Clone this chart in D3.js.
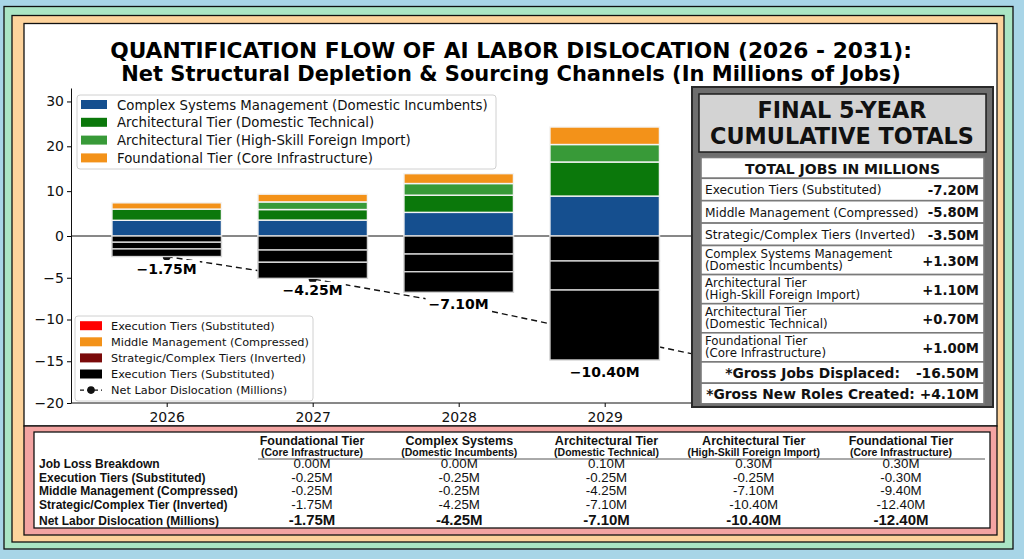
<!DOCTYPE html>
<html>
<head>
<meta charset="utf-8">
<script src="https://cdn.jsdelivr.net/npm/d3@7"></script>
<style>
  body { margin: 0; background: #fff; }
  svg { display: block; }
</style>
</head>
<body>
<div id="chart"></div>
<script>
// Chart data (millions of jobs)
var years = [2026, 2027, 2028, 2029];
var complexSystems = [3.5, 3.55, 5.27, 8.9];
var archDomestic = [2.5, 2.35, 3.83, 7.6];
var archForeign = [0, 1.7, 2.6, 3.9];
var foundational = [1.4, 1.73, 2.2, 3.9];
var lossExecution = [-0.75, -1.68, -2.16, -2.99];
var lossMiddle = [-0.8, -1.47, -2.12, -3.48];
var lossStrategic = [-0.91, -1.92, -2.46, -8.38];

// dashed net line (last point sits behind the totals panel)
var lineYears = [2026, 2027, 2028, 2029, 2030];
var lineValues = [-2.46, -5.15, -8.2, -11.9, -15.6];

var yTicks = [30, 20, 10, 0, -5, -10, -15, -20];

var legendTop = [
  "Complex Systems Management (Domestic Incumbents)",
  "Architectural Tier (Domestic Technical)",
  "Architectural Tier (High-Skill Foreign Import)",
  "Foundational Tier (Core Infrastructure)"
];
var legendBottom = [
  "Execution Tiers (Substituted)",
  "Middle Management (Compressed)",
  "Strategic/Complex Tiers (Inverted)",
  "Execution Tiers (Substituted)",
  "Net Labor Dislocation (Millions)"
];
var legendBottomColors = ["#ff0000", "#f39219", "#7a0a0a", "#000000"];

// Totals panel
var panelLabels = [
  ["Execution Tiers (Substituted)"],
  ["Middle Management (Compressed)"],
  ["Strategic/Complex Tiers (Inverted)"],
  ["Complex Systems Management", "(Domestic Incumbents)"],
  ["Architectural Tier", "(High-Skill Foreign Import)"],
  ["Architectural Tier", "(Domestic Technical)"],
  ["Foundational Tier", "(Core Infrastructure)"]
];
var panelValues = [-7.20, -5.80, -3.50, 1.30, 1.10, 0.70, 1.00];
var grossDisplaced = -16.50;
var grossCreated = 4.10;

// Bottom breakdown table
var tableHeads = [
  ["Foundational Tier", "(Core Infrastructure)"],
  ["Complex Systems", "(Domestic Incumbents)"],
  ["Architectural Tier", "(Domestic Technical)"],
  ["Architectural Tier", "(High-Skill Foreign Import)"],
  ["Foundational Tier", "(Core Infrastructure)"]
];
var tableRowLabels = [
  "Job Loss Breakdown",
  "Execution Tiers (Substituted)",
  "Middle Management (Compressed)",
  "Strategic/Complex Tier (Inverted)",
  "Net Labor Dislocation (Millions)"
];
var jobLoss = [0.00, 0.00, 0.10, 0.30, 0.30];
var execution = [-0.25, -0.25, -0.25, -0.25, -0.30];
var middle = [-0.25, -0.25, -4.25, -7.10, -9.40];
var strategic = [-1.75, -4.25, -7.10, -10.40, -12.40];
var netDislocation = [-1.75, -4.25, -7.10, -10.40, -12.40];

var posColors = ["#154f8f", "#0b780b", "#389a38", "#f39219"];
var dejavu = "DejaVu Sans, sans-serif";
var arial = "Liberation Sans, Arial, sans-serif";

var svgWidth = 1024;
var svgHeight = 559;

var svg = d3.select("#chart")
  .append("svg")
  .attr("width", svgWidth)
  .attr("height", svgHeight);

// shrink/grow a text element so it spans a given width
function fitWidth(sel, target) {
  var fs = +sel.attr("font-size");
  var len = sel.node().getComputedTextLength();
  sel.attr("font-size", fs * target / len);
  return sel;
}

// nested coloured frames
svg.append("rect").attr("width", svgWidth).attr("height", svgHeight).attr("fill", "#a8d5e7");
var frames = [
  { x: 4, y: 6.5, x2: 1013, y2: 549, fill: "#aae5c4" },
  { x: 12, y: 15.5, x2: 1004, y2: 542, fill: "#fdd39c" },
  { x: 24, y: 23.5, x2: 997, y2: 426, fill: "#ffffff" },
  { x: 24, y: 426, x2: 997, y2: 535, fill: "#f3a4a2" },
  { x: 34, y: 432, x2: 990, y2: 528, fill: "#ffffff" }
];
svg.selectAll("rect.frame")
  .data(frames)
  .enter()
  .append("rect")
  .attr("class", "frame")
  .attr("x", d => d.x)
  .attr("y", d => d.y)
  .attr("width", d => d.x2 - d.x)
  .attr("height", d => d.y2 - d.y)
  .attr("fill", d => d.fill)
  .attr("stroke", "#111")
  .attr("stroke-width", 1.3);

// Title
var title = svg.append("g")
  .attr("font-family", dejavu)
  .attr("font-weight", "bold")
  .attr("text-anchor", "middle");
var t1 = title.append("text").attr("x", 511).attr("y", 58).attr("font-size", 20.5)
  .text("QUANTIFICATION FLOW OF AI LABOR DISLOCATION (2026 - 2031):");
fitWidth(t1, 802);
var t2 = title.append("text").attr("x", 511).attr("y", 80.5).attr("font-size", 20.5)
  .text("Net Structural Depletion & Sourcing Channels (In Millions of Jobs)");
fitWidth(t2, 780);

// Scales (axis is not symmetric: the negative side is stretched)
var x = d3.scaleLinear().domain([2026, 2029]).range([166.7, 604.7]);
var y = d3.scaleLinear().domain([-20, 0, 33]).range([403, 236, 88]);
var barWidth = 0.75 * (x(2027) - x(2026));
var plotLeft = 71;
var plotRight = x(2030) + 100;

var chartGroup = svg.append("g");

// y axis
var leftAxis = d3.axisLeft(y)
  .tickValues(yTicks)
  .tickSize(4)
  .tickSizeOuter(0)
  .tickFormat(d3.format("d"));
chartGroup.append("g")
  .attr("transform", `translate(${plotLeft}, 0)`)
  .call(leftAxis)
  .call(g => g.selectAll("text").attr("font-size", 14).attr("font-family", dejavu).attr("fill", "#111"))
  .call(g => g.select(".domain").attr("stroke", "#111"));

// x axis
var bottomAxis = d3.axisBottom(x)
  .tickValues(years)
  .tickSize(4)
  .tickFormat(d3.format("d"));
var xAxis = chartGroup.append("g")
  .attr("transform", `translate(0, ${y(-20)})`)
  .call(bottomAxis);
xAxis.select(".domain").remove();
xAxis.selectAll("text").attr("font-size", 14).attr("font-family", dejavu).attr("fill", "#111").attr("dy", "0.85em");
chartGroup.append("line")
  .attr("x1", plotLeft).attr("x2", plotRight)
  .attr("y1", y(-20)).attr("y2", y(-20))
  .attr("stroke", "#111");

// zero line
chartGroup.append("line")
  .attr("x1", plotLeft).attr("x2", plotRight)
  .attr("y1", y(0)).attr("y2", y(0))
  .attr("stroke", "#111")
  .attr("stroke-width", 1);

// dashed net line, drawn under the bars
var lineData = lineYears.map((yr, i) => ({ year: yr, value: lineValues[i] }));
chartGroup.append("path")
  .datum(lineData)
  .attr("fill", "none")
  .attr("stroke", "#111")
  .attr("stroke-width", 1.4)
  .attr("stroke-dasharray", "6,4")
  .attr("d", d3.line().x(d => x(d.year)).y(d => y(d.value)));
chartGroup.selectAll("circle.net")
  .data(lineData)
  .enter()
  .append("circle")
  .attr("class", "net")
  .attr("cx", d => x(d.year))
  .attr("cy", d => y(d.value))
  .attr("r", 4)
  .attr("fill", "#111");

// stacked bars
var keys = ["complex", "archDom", "archFor", "found", "lossA", "lossB", "lossC"];
var stackRows = years.map((yr, i) => ({
  year: yr,
  complex: complexSystems[i],
  archDom: archDomestic[i],
  archFor: archForeign[i],
  found: foundational[i],
  lossA: lossExecution[i],
  lossB: lossMiddle[i],
  lossC: lossStrategic[i]
}));
var series = d3.stack().keys(keys).offset(d3.stackOffsetDiverging)(stackRows);

series.forEach(function(s, k) {
  var neg = k >= 4;
  chartGroup.append("g")
    .selectAll("rect")
    .data(s.filter(d => d[1] - d[0] !== 0))
    .enter()
    .append("rect")
    .attr("x", d => x(d.data.year) - barWidth / 2)
    .attr("width", barWidth)
    .attr("y", d => y(d[1]))
    .attr("height", d => y(d[0]) - y(d[1]))
    .attr("fill", neg ? "#000" : posColors[k])
    .attr("stroke", neg ? "#d4d4d4" : "#f4f4f4")
    .attr("stroke-width", 1.4);
});

// net labels under bars, on a white box like a text bbox
var fmtLabel = d3.format(".2f");
years.forEach(function(yr, i) {
  var bottom = y(lossExecution[i] + lossMiddle[i] + lossStrategic[i]);
  var g = chartGroup.append("g");
  var box = g.append("rect").attr("fill", "#fff");
  var txt = g.append("text")
    .attr("x", x(yr))
    .attr("y", bottom + 17)
    .attr("text-anchor", "middle")
    .attr("font-family", dejavu)
    .attr("font-weight", "bold")
    .attr("font-size", 14)
    .text(fmtLabel(netDislocation[i]) + "M");
  var bb = txt.node().getBBox();
  box.attr("x", bb.x - 3).attr("y", bb.y - 0.5).attr("width", bb.width + 6).attr("height", bb.height + 1);
});

// upper legend
var legendA = chartGroup.append("g");
legendA.append("rect")
  .attr("x", 77).attr("y", 95).attr("width", 419).attr("height", 74).attr("rx", 3)
  .attr("fill", "#fff").attr("fill-opacity", 0.85)
  .attr("stroke", "#d0d0d0");
legendTop.forEach(function(label, i) {
  var cy = 104.5 + i * 17.8;
  legendA.append("rect").attr("x", 81).attr("y", cy - 4.5).attr("width", 26).attr("height", 9).attr("fill", posColors[i]);
  legendA.append("text").attr("x", 117).attr("y", cy + 5)
    .attr("font-family", dejavu).attr("font-size", 13.3).attr("fill", "#111").text(label);
});

// lower legend
var legendB = chartGroup.append("g");
legendB.append("rect")
  .attr("x", 75).attr("y", 316).attr("width", 238).attr("height", 85).attr("rx", 3)
  .attr("fill", "#fff").attr("fill-opacity", 0.85)
  .attr("stroke", "#d0d0d0");
legendBottom.forEach(function(label, i) {
  var cy = 325.7 + i * 16.1;
  if (i < 4) {
    legendB.append("rect").attr("x", 80).attr("y", cy - 4.5).attr("width", 22).attr("height", 9).attr("fill", legendBottomColors[i]);
  } else {
    legendB.append("line").attr("x1", 80).attr("x2", 102).attr("y1", cy).attr("y2", cy)
      .attr("stroke", "#111").attr("stroke-width", 1.4).attr("stroke-dasharray", "4,3");
    legendB.append("circle").attr("cx", 91).attr("cy", cy).attr("r", 3.8).attr("fill", "#111");
  }
  legendB.append("text").attr("x", 111).attr("y", cy + 4)
    .attr("font-family", dejavu).attr("font-size", 11.3).attr("fill", "#111").text(label);
});

// Totals panel
var hyphenFmt = d3.formatLocale({ decimal: ".", thousands: ",", grouping: [3], currency: ["", ""], minus: "-" });
var fmtSigned = hyphenFmt.format("+.2f");
var fmtPlain = hyphenFmt.format(".2f");

var panel = svg.append("g").attr("font-family", dejavu).attr("fill", "#111");
panel.append("rect")
  .attr("x", 692).attr("y", 87).attr("width", 301).attr("height", 320)
  .attr("fill", "#6e6e6e").attr("stroke", "#2a2a2a").attr("stroke-width", 2);
panel.append("rect")
  .attr("x", 699).attr("y", 94).attr("width", 287).attr("height", 58)
  .attr("fill", "#d3d3d3").attr("stroke", "#1e1e1e").attr("stroke-width", 1.5);
var p1 = panel.append("text").attr("x", 842).attr("y", 118).attr("text-anchor", "middle")
  .attr("font-weight", "bold").attr("font-size", 21).text("FINAL 5-YEAR");
var p2 = panel.append("text").attr("x", 842).attr("y", 144).attr("text-anchor", "middle")
  .attr("font-weight", "bold").attr("font-size", 21).text("CUMULATIVE TOTALS");
fitWidth(p2, 264);
p1.attr("font-size", p2.attr("font-size"));

var rowX = 701, rowW = 283;
var rowTop = 157.5;
function panelRow(h) {
  panel.append("rect")
    .attr("x", rowX).attr("y", rowTop).attr("width", rowW).attr("height", h)
    .attr("fill", "#fff").attr("stroke", "#7a7a7a").attr("stroke-width", 1.6);
  var top = rowTop;
  rowTop += h;
  return top;
}
var hTop = panelRow(20.8);
panel.append("text").attr("x", rowX + rowW / 2).attr("y", hTop + 16).attr("text-anchor", "middle")
  .attr("font-weight", "bold").attr("font-size", 14).text("TOTAL JOBS IN MILLIONS");

panelLabels.forEach(function(lines, i) {
  var two = lines.length > 1;
  var h = two ? 29.1 : 22.4;
  var top = panelRow(h);
  lines.forEach(function(line, j) {
    panel.append("text")
      .attr("x", 705)
      .attr("y", two ? top + 12 + j * 12 : top + 16)
      .attr("font-size", two ? 11.8 : 12.2)
      .text(line);
  });
  panel.append("text")
    .attr("x", 979).attr("y", two ? top + 20 : top + 16.5)
    .attr("text-anchor", "end").attr("font-weight", "bold").attr("font-size", 13.2)
    .text(fmtSigned(panelValues[i]) + "M");
});

var gTop = panelRow(21.3);
var gd = panel.append("text").attr("x", 900).attr("y", gTop + 16).attr("text-anchor", "end")
  .attr("font-weight", "bold").attr("font-size", 14).text("*Gross Jobs Displaced:");
fitWidth(gd, 175);
panel.append("text").attr("x", 979).attr("y", gTop + 16).attr("text-anchor", "end")
  .attr("font-weight", "bold").attr("font-size", gd.attr("font-size")).text(fmtPlain(grossDisplaced) + "M");
var cTop = panelRow(20.6);
var gc = panel.append("text").attr("x", 979).attr("y", cTop + 15.5).attr("text-anchor", "end")
  .attr("font-weight", "bold").attr("font-size", 14)
  .text("*Gross New Roles Created: " + fmtSigned(grossCreated) + "M");
fitWidth(gc, 273);

// Bottom breakdown table
var col = d3.scalePoint().domain(d3.range(tableHeads.length)).range([312, 901]);
var table = svg.append("g").attr("font-family", arial).attr("fill", "#111");

table.selectAll("text.head1")
  .data(tableHeads)
  .enter()
  .append("text")
  .attr("x", (d, i) => col(i))
  .attr("y", 444.5)
  .attr("text-anchor", "middle")
  .attr("font-weight", "bold")
  .attr("font-size", 12.5)
  .text(d => d[0]);
table.selectAll("text.head2")
  .data(tableHeads)
  .enter()
  .append("text")
  .attr("x", (d, i) => col(i))
  .attr("y", 455.5)
  .attr("text-anchor", "middle")
  .attr("font-weight", "bold")
  .attr("font-size", 10.5)
  .text(d => d[1]);
table.append("line")
  .attr("x1", 258).attr("x2", 985).attr("y1", 459).attr("y2", 459)
  .attr("stroke", "#555").attr("stroke-width", 1);

var tableValues = [jobLoss, execution, middle, strategic, netDislocation];
var rowBase = [468, 481.5, 495, 508.5, 524.5];
tableRowLabels.forEach(function(label, r) {
  table.append("text")
    .attr("x", 39).attr("y", rowBase[r])
    .attr("font-weight", "bold").attr("font-size", 12)
    .text(label);
  var last = r === tableRowLabels.length - 1;
  table.selectAll("text.v" + r)
    .data(tableValues[r])
    .enter()
    .append("text")
    .attr("x", (d, i) => col(i))
    .attr("y", rowBase[r])
    .attr("text-anchor", "middle")
    .attr("font-weight", last ? "bold" : "normal")
    .attr("font-size", last ? 15 : 13.3)
    .text(d => fmtPlain(d) + "M");
});
</script>
</body>
</html>
